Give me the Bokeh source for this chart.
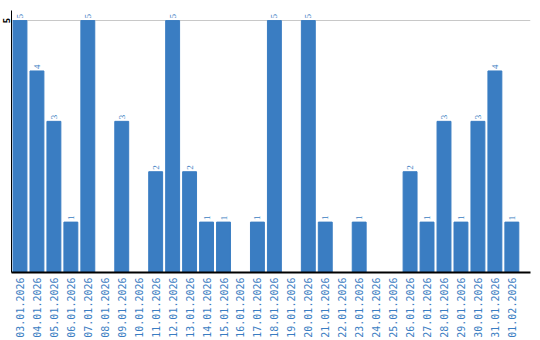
import numpy as np
from bokeh.plotting import figure
from bokeh.models import Range1d, FixedTicker, ColumnDataSource, LabelSet
from bokeh.embed import file_html
from bokeh.resources import INLINE

dates = ["03.01.2026","04.01.2026","05.01.2026","06.01.2026","07.01.2026","08.01.2026",
         "09.01.2026","10.01.2026","11.01.2026","12.01.2026","13.01.2026","14.01.2026",
         "15.01.2026","16.01.2026","17.01.2026","18.01.2026","19.01.2026","20.01.2026",
         "21.01.2026","22.01.2026","23.01.2026","24.01.2026","25.01.2026","26.01.2026",
         "27.01.2026","28.01.2026","29.01.2026","30.01.2026","31.01.2026","01.02.2026"]
counts = [5,4,3,1,5,0,3,0,2,5,2,1,1,0,1,5,0,5,1,0,1,0,0,2,1,3,1,3,4,1]
y_ticks = [5]

BLUE = "#3a7dc2"
MONO = "DejaVu Sans Mono"
xs = [i + 0.5 for i in range(len(dates))]
labels = [str(c) if c > 0 else "" for c in counts]
src = ColumnDataSource(dict(x=xs, top=counts, lab=labels))

p = figure(width=540, height=340, output_backend="svg", toolbar_location=None,
           x_range=Range1d(0, 30.6), y_range=Range1d(0, 5.2),
           min_border_left=0, min_border_right=10, min_border_top=10, min_border_bottom=66)
p.outline_line_color = None
p.vbar(x="x", top="top", width=0.82, bottom=0, color=BLUE, source=src)
p.add_layout(LabelSet(x="x", y="top", text="lab", source=src, angle=np.pi/2,
                      text_align="left", text_baseline="middle", x_offset=0, y_offset=2,
                      text_font_size="9px", text_color=BLUE, text_font=MONO))

p.xaxis.ticker = FixedTicker(ticks=xs)
p.xaxis.major_label_overrides = {x: d for x, d in zip(xs, dates)}
p.xaxis.major_label_orientation = np.pi/2
p.xaxis.major_label_text_color = BLUE
p.xaxis.major_label_text_font_size = "10px"
p.xaxis.major_label_text_font = MONO
p.xaxis.major_label_standoff = 5
p.xaxis.major_tick_out = 0
p.xaxis.major_tick_in = 0
p.xaxis.minor_tick_out = 0
p.xaxis.minor_tick_in = 0
p.xaxis.axis_line_color = "black"
p.xaxis.axis_line_width = 2

p.yaxis.ticker = FixedTicker(ticks=y_ticks)
p.yaxis.major_label_orientation = "vertical"
p.yaxis.major_label_text_font_size = "9px"
p.yaxis.major_label_text_font = MONO
p.yaxis.major_label_text_font_style = "bold"
p.yaxis.major_label_text_color = "black"
p.yaxis.major_label_standoff = 1
p.yaxis.major_tick_out = 0
p.yaxis.major_tick_in = 0
p.yaxis.minor_tick_out = 0
p.yaxis.minor_tick_in = 0
p.yaxis.axis_line_color = "black"

p.xgrid.grid_line_color = None
p.ygrid.ticker = FixedTicker(ticks=y_ticks)
p.ygrid.grid_line_color = "#c8c8c8"

open("out.html", "w").write(file_html(p, INLINE))
